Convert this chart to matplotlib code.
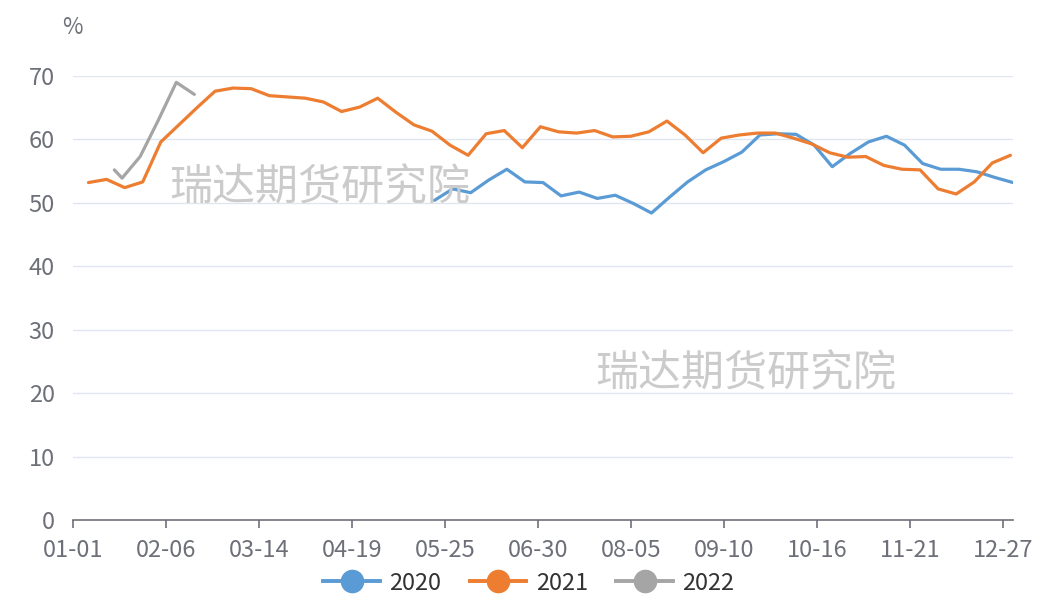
import matplotlib
matplotlib.use("Agg")
import matplotlib.pyplot as plt
from matplotlib.lines import Line2D
import pandas as pd

plt.rcParams['font.family'] = ['Noto Sans CJK SC', 'DejaVu Sans']

# ---- data ----
categories = list(pd.date_range('2021-01-01', '2021-12-31').strftime('%m-%d'))
tick_labels = ['01-01', '02-06', '03-14', '04-19', '05-25', '06-30',
               '08-05', '09-10', '10-16', '11-21', '12-27']

dates_2020 = ['05-21', '05-28', '06-04', '06-11', '06-18', '06-25', '07-02', '07-09',
              '07-16', '07-23', '07-30', '08-06', '08-13', '08-20', '08-27', '09-03',
              '09-10', '09-17', '09-24', '10-01', '10-08', '10-15', '10-22', '10-29',
              '11-05', '11-12', '11-19', '11-26', '12-03', '12-10', '12-17', '12-24',
              '12-31']
values_2020 = [50.4, 52.2, 51.6, 53.6, 55.3, 53.3, 53.2, 51.1,
               51.7, 50.7, 51.2, 49.9, 48.4, 50.9, 53.3, 55.2,
               56.5, 58.0, 60.7, 60.9, 60.8, 59.1, 55.7, 57.8,
               59.6, 60.5, 59.1, 56.2, 55.3, 55.3, 54.9, 54.0,
               53.2]

dates_2021 = ['01-07', '01-14', '01-21', '01-28', '02-04', '02-11', '02-18', '02-25',
              '03-04', '03-11', '03-18', '03-25', '04-01', '04-08', '04-15', '04-22',
              '04-29', '05-06', '05-13', '05-20', '05-27', '06-03', '06-10', '06-17',
              '06-24', '07-01', '07-08', '07-15', '07-22', '07-29', '08-05', '08-12',
              '08-19', '08-26', '09-02', '09-09', '09-16', '09-23', '09-30', '10-07',
              '10-14', '10-21', '10-28', '11-04', '11-11', '11-18', '11-25', '12-02',
              '12-09', '12-16', '12-23', '12-30']
values_2021 = [53.2, 53.7, 52.4, 53.3, 59.6, 62.3, 65.0, 67.6,
               68.1, 68.0, 66.9, 66.7, 66.5, 65.9, 64.4, 65.1,
               66.5, 64.3, 62.3, 61.3, 59.1, 57.5, 60.9, 61.4,
               58.7, 62.0, 61.2, 61.0, 61.4, 60.4, 60.5, 61.2,
               62.9, 60.7, 57.9, 60.2, 60.7, 61.0, 61.0, 60.2,
               59.3, 57.9, 57.2, 57.3, 55.9, 55.3, 55.2, 52.2,
               51.4, 53.3, 56.3, 57.5]

dates_2022 = ['01-17', '01-20', '01-27', '02-03', '02-10', '02-17']
values_2022 = [55.2, 53.9, 57.3, 63.0, 69.0, 67.1]

series_names = ['2020', '2021', '2022']
colors = ['#5B9BD5', '#ED7D31', '#A5A5A5']

# ---- figure ----
W, H = 1043, 599
fig = plt.figure(figsize=(W / 100, H / 100), dpi=100)
ax = fig.add_axes([73 / W, 1 - 520 / H, (1013 - 73) / W, (520 - 76) / H])

pos = {c: i for i, c in enumerate(categories)}
all_series = [(dates_2020, values_2020), (dates_2021, values_2021), (dates_2022, values_2022)]
for (d, v), name, col in zip(all_series, series_names, colors):
    ax.plot([pos[x] for x in d], v, color=col, lw=2.3, solid_joinstyle='round',
            solid_capstyle='round', label=name, zorder=3)

ax.set_xlim(0, len(categories) - 1)
ax.set_ylim(0, 70)
ax.set_yticks(range(0, 71, 10))
ax.set_xticks([pos[t] for t in tick_labels])
ax.set_xticklabels(tick_labels)

grid_col = '#E0E6F1'
for yv in range(10, 71, 10):
    ax.axhline(yv, color=grid_col, lw=1.0, zorder=1)

for s in ['top', 'right', 'left']:
    ax.spines[s].set_visible(False)
ax.spines['bottom'].set_color('#6E7079')
ax.spines['bottom'].set_linewidth(1.2)

label_col = '#6E7079'
ax.tick_params(axis='x', colors='#6E7079', labelcolor=label_col, length=6, width=1.2,
               labelsize=17, pad=8)
ax.tick_params(axis='y', length=0, labelcolor=label_col, labelsize=17, pad=13)

fig.text(72 / W, 1 - 27 / H, '%', color=label_col, fontsize=16, ha='center', va='center')

# watermarks
wm_col = '#CBCBCB'
fig.text(320 / W, 1 - 188 / H, '瑞达期货研究院', color=wm_col, fontsize=31,
         ha='center', va='center', zorder=0)
fig.text(746 / W, 1 - 374 / H, '瑞达期货研究院', color=wm_col, fontsize=31,
         ha='center', va='center', zorder=0)

handles = [Line2D([], [], color=c, lw=2.8, marker='o', markersize=16,
                  markeredgecolor=c) for c in colors]
fig.legend(handles, series_names, loc='center', bbox_to_anchor=(0.507, 1 - 583 / H),
           ncol=3, frameon=False, fontsize=17, handlelength=2.4, columnspacing=1.2,
           handletextpad=0.4, labelcolor='#333333')

fig.savefig('out.png', dpi=100)
